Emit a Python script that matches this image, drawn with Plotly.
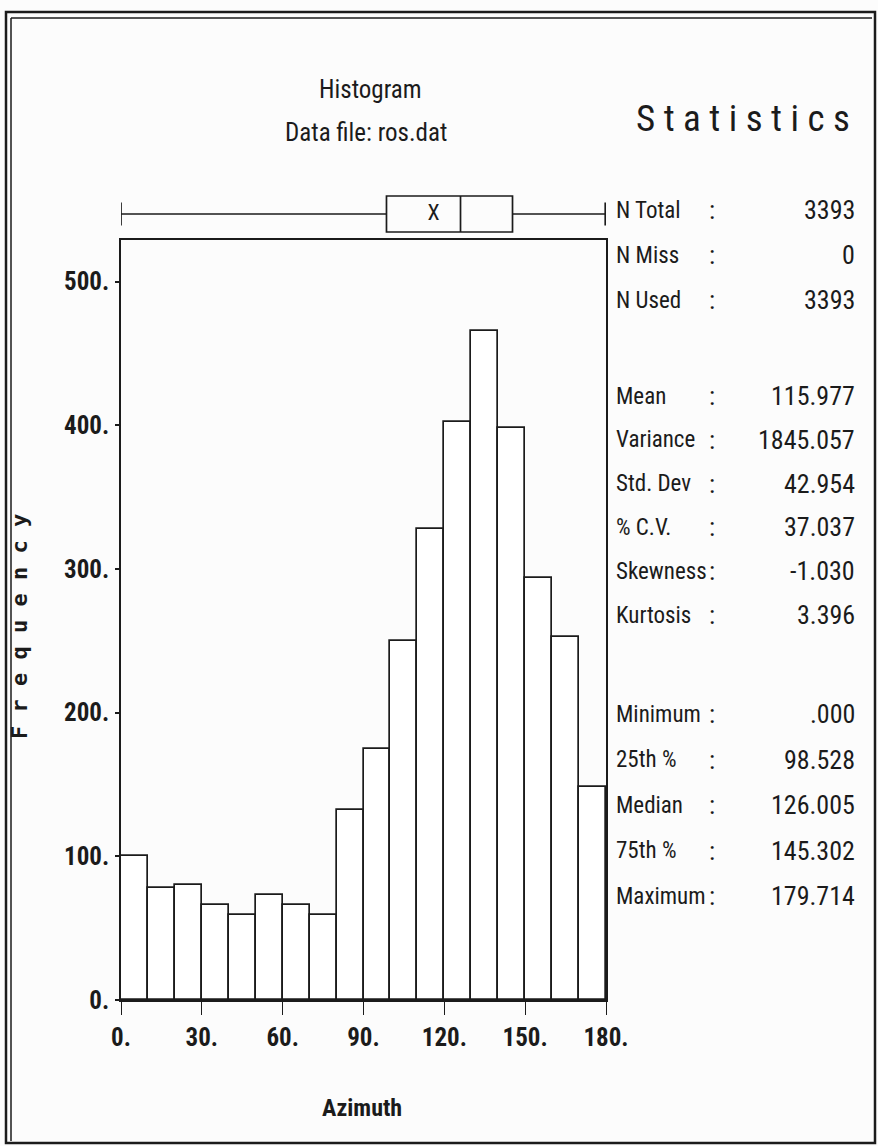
import plotly.graph_objects as go

# Azimuth histogram: 10-degree bins from 0 to 180
bin_left = list(range(0, 180, 10))
bin_width = 10
frequency = [100, 78, 80, 66, 59, 73, 66, 59, 132, 175,
             250, 328, 402, 466, 398, 294, 253, 148]

x_ticks = [0, 30, 60, 90, 120, 150, 180]
x_tick_labels = ["0.", "30.", "60.", "90.", "120.", "150.", "180."]
y_ticks = [0, 100, 200, 300, 400, 500]
y_tick_labels = ["0.", "100.", "200.", "300.", "400.", "500."]

# Summary statistics (box plot + table)
box_min = 0.000
box_q1 = 98.528
box_median = 126.005
box_q3 = 145.302
box_max = 179.714
box_mean = 115.977

count_labels = ["N Total", "N Miss", "N Used"]
count_values = [3393, 0, 3393]
moment_labels = ["Mean", "Variance", "Std. Dev", "% C.V.", "Skewness", "Kurtosis"]
moment_values = [box_mean, 1845.057, 42.954, 37.037, -1.030, 3.396]
order_labels = ["Minimum", "25th %", "Median", "75th %", "Maximum"]
order_values = [box_min, box_q1, box_median, box_q3, box_max]

# ---------------------------------------------------------------- styling
INK = "#1b1b1b"
PAPER = "#fcfcfc"
NARROW = "Liberation Sans Narrow, Roboto Condensed, DejaVu Sans Condensed, Arial Narrow, DejaVu Sans Mono, monospace"
MONO = "DejaVu Sans Mono, Liberation Mono, monospace"

W, H = 878, 1146
PLOT_L, PLOT_R = 121, 606          # x = 0 .. 180
PLOT_T, PLOT_B = 190, 1000         # includes box-plot strip
FRAME_T = 240                      # top of histogram frame


def px(x):
    return (x - PLOT_L) / (PLOT_R - PLOT_L)


def py(y):
    return (PLOT_B - y) / (PLOT_B - PLOT_T)


def fmt(v):
    s = f"{v:.3f}"
    if s.startswith("0."):
        s = s[1:]
    elif s.startswith("-0."):
        s = "-" + s[2:]
    return s


fig = go.Figure()

fig.add_trace(go.Bar(
    x=bin_left, y=frequency, width=bin_width, offset=0,
    marker=dict(color="white", line=dict(color=INK, width=1.7)),
    hoverinfo="x+y",
))

fig.add_trace(go.Box(
    orientation="h", y=[0],
    q1=[box_q1], median=[box_median], q3=[box_q3],
    lowerfence=[box_min], upperfence=[box_max],
    width=0.72, whiskerwidth=0.64, boxpoints=False,
    fillcolor="rgba(0,0,0,0)", line=dict(color=INK, width=1.7),
    xaxis="x", yaxis="y2", hoverinfo="skip",
))

fig.add_trace(go.Scatter(
    x=[box_mean], y=[0], mode="text", text=["X"],
    textfont=dict(family=NARROW, size=22, color=INK),
    xaxis="x", yaxis="y2", hoverinfo="skip",
))

tick_font = dict(family=NARROW, size=25, color=INK, weight="bold")

fig.update_layout(
    width=W, height=H,
    margin=dict(l=PLOT_L, r=W - PLOT_R, t=PLOT_T, b=H - PLOT_B, pad=0),
    paper_bgcolor=PAPER, plot_bgcolor=PAPER,
    showlegend=False, bargap=0,
    xaxis=dict(
        domain=[0, 1], range=[0, 180], anchor="y",
        tickvals=x_ticks, ticktext=x_tick_labels, tickfont=tick_font,
        ticks="outside", ticklen=13, tickwidth=1.3, tickcolor=INK,
        ticklabelstandoff=1,
        showline=True, linecolor=INK, linewidth=2, mirror=True,
        showgrid=False, zeroline=False, fixedrange=True,
    ),
    yaxis=dict(
        domain=[0, py(FRAME_T)], range=[0, 529], anchor="x",
        tickvals=y_ticks, ticktext=y_tick_labels, tickfont=tick_font,
        ticks="outside", ticklen=4, tickwidth=1.5, tickcolor=INK,
        ticklabelstandoff=1,
        showline=True, linecolor=INK, linewidth=1.5, mirror=True,
        showgrid=False, zeroline=False, fixedrange=True,
    ),
    yaxis2=dict(
        domain=[py(FRAME_T), 1], range=[-0.52, 0.48], anchor="x",
        visible=False, fixedrange=True,
    ),
)

annotations = []


def text(x, y, s, size, family=NARROW, anchor="center", bold=False, angle=0):
    annotations.append(dict(
        x=px(x), y=py(y), xref="paper", yref="paper", text=s, showarrow=False,
        xanchor=anchor, yanchor="middle", textangle=angle,
        font=dict(family=family, size=size, color=INK,
                  weight="bold" if bold else "normal"),
    ))


# Titles
text(370, 90, "Histogram", 25)
text(366, 132, "Data file: ros.dat", 25)
text(743, 118, "S t a t i s t i c s", 37)
text(362, 1108, "Azimuth", 24, bold=True)
text(19, 627, "F r e q u e n c y", 22, family=MONO, bold=True, angle=-90)

# Statistics table
groups = [
    (count_labels, [str(v) for v in count_values], 210, 45.0),
    (moment_labels, [fmt(v) for v in moment_values], 396, 43.8),
    (order_labels, [fmt(v) for v in order_values], 714, 45.5),
]
for labels, values, y0, pitch in groups:
    for i, (lab, val) in enumerate(zip(labels, values)):
        y = y0 + i * pitch
        text(614, y, lab, 23, anchor="left")
        text(712, y, ":", 26)
        text(857, y, val, 26, anchor="right")

fig.update_layout(annotations=annotations)

# Double border around the page
shapes = [
    dict(type="rect", xref="paper", yref="paper",
         x0=px(6), x1=px(875), y0=py(12), y1=py(1143),
         line=dict(color=INK, width=2.5)),
    dict(type="line", xref="paper", yref="paper",
         x0=px(11), x1=px(11), y0=py(18), y1=py(1141),
         line=dict(color=INK, width=1.5)),
    dict(type="line", xref="paper", yref="paper",
         x0=px(11), x1=px(872), y0=py(18), y1=py(18),
         line=dict(color=INK, width=1.5)),
]
fig.update_layout(shapes=shapes)

fig.write_html("out.html", config={"displayModeBar": False})
